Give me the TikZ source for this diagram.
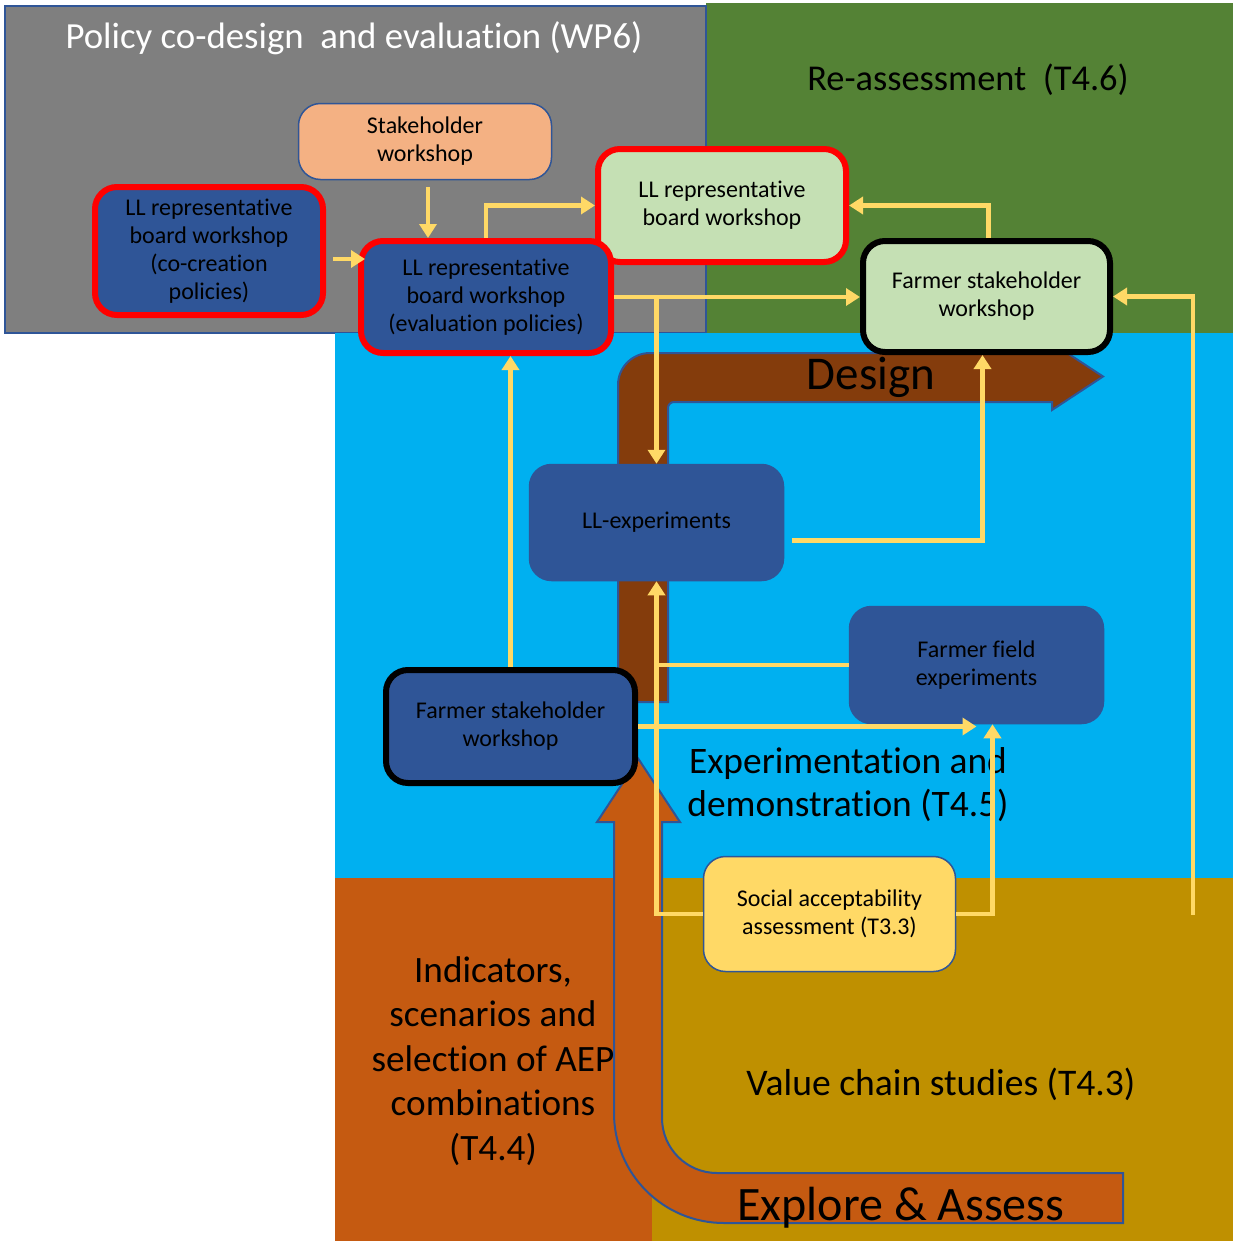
\documentclass[tikz,border=0pt]{standalone}
\usepackage{fontspec}
\setmainfont{Carlito}[Ligatures={NoCommon,NoRare,NoContextual}]
\usetikzlibrary{arrows.meta}
\definecolor{bggray}{HTML}{7F7F7F}
\definecolor{bggreen}{HTML}{548235}
\definecolor{bgcyan}{HTML}{00B0F0}
\definecolor{bgorange}{HTML}{C55A11}
\definecolor{bgolive}{HTML}{BF9000}
\definecolor{brownarrow}{HTML}{843C0C}
\definecolor{darkblue}{HTML}{2F5597}
\definecolor{outlineblue}{HTML}{2F5597}
\definecolor{lightgreen}{HTML}{C5E0B4}
\definecolor{salmon}{HTML}{F4B183}
\definecolor{connyellow}{HTML}{FFD966}
\definecolor{redborder}{HTML}{FF0000}
\begin{document}
\begin{tikzpicture}[x=0.5pt,y=-0.5pt,
  conn/.style={draw=connyellow, line width=2.3pt, -{Triangle[length=7pt,width=8.5pt]}},
  plainconn/.style={draw=connyellow, line width=2.3pt},
  nbox/.style={rounded corners=11pt, align=center, inner sep=0pt, text=black,
    font=\fontsize{12}{14}\selectfont},
  redb/.style={nbox, draw=redborder, line width=3pt},
  blackb/.style={nbox, draw=black, line width=3pt},
  thinb/.style={nbox, draw=outlineblue, line width=0.75pt},
  bigarrow/.style={draw=outlineblue, line width=1pt},
  areatext/.style={align=center, inner sep=0pt, text=black}
]
\useasboundingbox (0,0) rectangle (1233,1243);
% background areas
\fill[white] (0,0) rectangle (1233,1243);
\fill[bggreen] (706,3) rectangle (1233,333);
\filldraw[fill=bggray, draw=outlineblue, line width=1pt] (5,6) rectangle (706,333);
\fill[bgcyan] (335,333) rectangle (1233,878);
\fill[bgorange] (335,878) rectangle (652,1241);
\fill[bgolive] (652,878) rectangle (1233,1241);

% Design arrow
\filldraw[bigarrow, fill=brownarrow] (618,702) [rounded corners=16pt] -- (618,353) [sharp corners] -- (1052,353) -- (1052,343) -- (1103,376.5) -- (1052,410) -- (1052,402) [rounded corners=3pt] -- (668,402) [sharp corners] -- (668,702) -- cycle;

% Explore & Assess arrow
\filldraw[bigarrow, fill=bgorange] (597,822) -- (638.5,759) -- (680,822) -- (662,822) [rounded corners=27.5pt] -- (662,1173) [sharp corners] -- (1123,1173) -- (1123,1223) [rounded corners=55pt] -- (614,1223) [sharp corners] -- (614,822) -- cycle;

% area texts
\node[areatext, text=white, font=\fontsize{18.4}{22}\selectfont] (ttitle) at (354,38) {Policy co-design\ \ and evaluation (WP6)};
\node[areatext, font=\fontsize{18.2}{22}\selectfont] (treass) at (968,80) {Re-assessment\ \ (T4.6)};
\node[areatext, font=\fontsize{23.5}{28}\selectfont] (tdesign) at (871,377) {Design};
\node[areatext, font=\fontsize{18.7}{21.5}\selectfont] (texp) at (848,785) {Experimentation and\\demonstration (T4.5)};
\node[areatext, font=\fontsize{18.6}{22.25}\selectfont] (tind) at (493,1061) {Indicators,\\scenarios and\\selection of AEP\\combinations\\(T4.4)};
\node[areatext, font=\fontsize{18.8}{21}\selectfont] (tvalue) at (941,1084) {Value chain studies (T4.3)};
\node[areatext, font=\fontsize{24}{28}\selectfont] (texplore) at (901,1208) {Explore \& Assess};

% boxes
\node[thinb, fill=salmon, minimum width=126.5pt, minimum height=38pt] (stake) at (425,141.5) {Stakeholder\\workshop};
\node[redb, fill=darkblue, minimum width=114pt, minimum height=64pt] (cocreate) at (209,251) {LL representative\\board workshop\\(co-creation\\policies)};
\node[redb, fill=lightgreen, minimum width=124pt, minimum height=56.5pt] (llgreen) at (722,205.5) {LL representative\\board workshop};
\node[redb, fill=darkblue, minimum width=125pt, minimum height=56pt] (evalb) at (486,297) {LL representative\\board workshop\\(evaluation policies)};
\node[blackb, fill=lightgreen, minimum width=123.5pt, minimum height=55.5pt] (farmgreen) at (986.5,296.5) {Farmer stakeholder\\workshop};
\node[thinb, fill=darkblue, minimum width=127pt, minimum height=58pt] (llexp) at (656.5,522.5) {LL-experiments};
\node[thinb, fill=darkblue, minimum width=127pt, minimum height=58.5pt] (ffexp) at (976.5,665) {Farmer field\\experiments};
\node[blackb, fill=darkblue, minimum width=124.5pt, minimum height=56.5pt] (farmdark) at (510.5,726.5) {Farmer stakeholder\\workshop};
\node[thinb, fill=connyellow, minimum width=126pt, minimum height=57.5pt] (social) at (829.5,914) {Social acceptability\\assessment (T3.3)};

% connectors
\coordinate (rstart) at (1193,915);
\draw[conn] ([yshift=-3.5pt,xshift=1.5pt]stake.south) -- ([xshift=1.5pt]stake.south |- evalb.north);
\draw[conn] ([shift={(3.5pt,-4pt)}]cocreate.east) -- ([shift={(3.5pt,-4pt)}]cocreate.east -| evalb.west);
\draw[conn] (evalb.north) |- (llgreen.west);
\draw[conn] (evalb.east) -- (evalb.east -| farmgreen.west);
\draw[conn] (evalb.east -| llexp.north) -- (llexp.north);
\draw[conn] ([xshift=1pt]farmgreen.north) |- (llgreen.east);
\draw[conn] (rstart) |- (farmgreen.east);
\draw[conn] ([shift={(4pt,-9pt)}]llexp.east) -| ([xshift=-2pt]farmgreen.south);
\draw[conn] (farmdark.north) -- (farmdark.north |- evalb.south);
\draw[conn] (social.west) -| (llexp.south);
\draw[plainconn] (ffexp.west) -- (ffexp.west -| llexp.south);
\draw[conn] (farmdark.east) -- (farmdark.east -| ffexp.south);
\draw[conn] (social.east) -| ([xshift=8pt]ffexp.south);
\end{tikzpicture}
\end{document}
